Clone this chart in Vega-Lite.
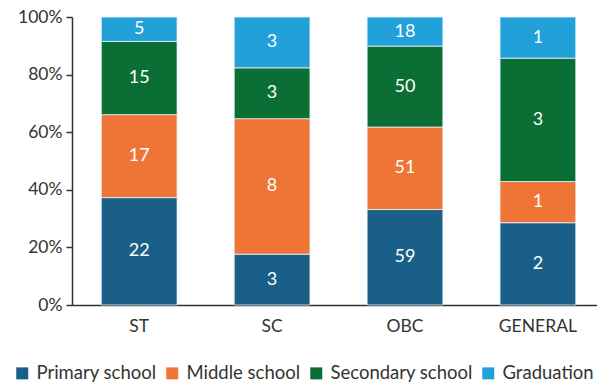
{
  "$schema": "https://vega.github.io/schema/vega-lite/v6.json",
  "autosize": "none",
  "width": 525,
  "height": 288,
  "padding": {"left": 72, "top": 17, "right": 0, "bottom": 80},
  "background": "white",
  "config": {
    "font": "Lato",
    "view": {"stroke": null},
    "axis": {"labelFont": "Lato", "labelColor": "#333333", "labelFontSize": 17.5, "domainColor": "#333333", "tickColor": "#333333", "grid": false, "title": null}
  },
  "data": {
    "values": [
      {"group": "ST", "level": "Primary school", "ord": 1, "count": 22},
      {"group": "ST", "level": "Middle school", "ord": 2, "count": 17},
      {"group": "ST", "level": "Secondary school", "ord": 3, "count": 15},
      {"group": "ST", "level": "Graduation", "ord": 4, "count": 5},
      {"group": "SC", "level": "Primary school", "ord": 1, "count": 3},
      {"group": "SC", "level": "Middle school", "ord": 2, "count": 8},
      {"group": "SC", "level": "Secondary school", "ord": 3, "count": 3},
      {"group": "SC", "level": "Graduation", "ord": 4, "count": 3},
      {"group": "OBC", "level": "Primary school", "ord": 1, "count": 59},
      {"group": "OBC", "level": "Middle school", "ord": 2, "count": 51},
      {"group": "OBC", "level": "Secondary school", "ord": 3, "count": 50},
      {"group": "OBC", "level": "Graduation", "ord": 4, "count": 18},
      {"group": "GENERAL", "level": "Primary school", "ord": 1, "count": 2},
      {"group": "GENERAL", "level": "Middle school", "ord": 2, "count": 1},
      {"group": "GENERAL", "level": "Secondary school", "ord": 3, "count": 3},
      {"group": "GENERAL", "level": "Graduation", "ord": 4, "count": 1}
    ]
  },
  "encoding": {
    "x": {
      "field": "group", "type": "nominal", "sort": ["ST", "SC", "OBC", "GENERAL"],
      "scale": {"paddingInner": 0.43, "paddingOuter": 0.19, "align": 0.58},
      "axis": {"labelAngle": 0, "ticks": false, "labelPadding": 12, "domainWidth": 1.5}
    },
    "y": {
      "field": "count", "type": "quantitative", "stack": "normalize",
      "axis": {"format": ".0%", "values": [0, 0.2, 0.4, 0.6, 0.8, 1], "tickSize": 6, "labelPadding": 4, "domainWidth": 1.5, "tickWidth": 1.5}
    },
    "order": {"field": "ord", "type": "quantitative"}
  },
  "layer": [
    {
      "mark": {"type": "bar", "stroke": "#e8f4fa", "strokeWidth": 0.8},
      "encoding": {
        "color": {
          "field": "level", "type": "nominal",
          "scale": {"domain": ["Primary school", "Middle school", "Secondary school", "Graduation"], "range": ["#1a5f87", "#ee7535", "#0b6e35", "#22a0da"]},
          "legend": {
            "title": null, "orient": "none", "direction": "horizontal", "legendX": -59, "legendY": 347,
            "symbolType": "square", "symbolSize": 144, "symbolStrokeWidth": 0, "symbolOpacity": 1,
            "labelFont": "Lato", "labelFontSize": 18.5, "labelColor": "#333333", "labelOffset": 5, "columnPadding": 6,
            "labelLimit": 300
          }
        }
      }
    },
    {
      "mark": {"type": "text", "color": "white", "fontSize": 18, "font": "Lato"},
      "encoding": {
        "y": {"field": "count", "type": "quantitative", "stack": "normalize", "bandPosition": 0.5},
        "text": {"field": "count", "type": "quantitative"}
      }
    }
  ]
}
